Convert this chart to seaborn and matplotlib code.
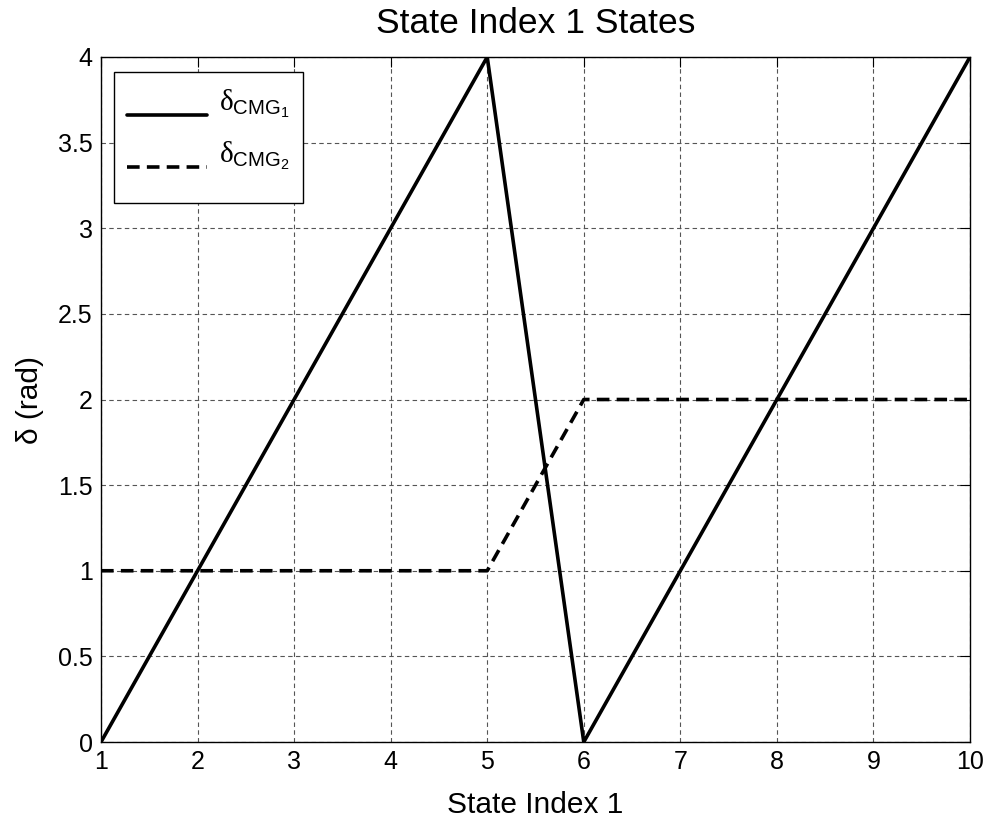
import matplotlib
matplotlib.use("Agg")
import matplotlib.pyplot as plt
import seaborn as sns
import pandas as pd
import numpy as np

state_index = [1, 2, 3, 4, 5, 6, 7, 8, 9, 10]
delta_cmg1 = [0, 1, 2, 3, 4, 0, 1, 2, 3, 4]
delta_cmg2 = [1, 1, 1, 1, 1, 2, 2, 2, 2, 2]
x_ticks = [1, 2, 3, 4, 5, 6, 7, 8, 9, 10]
y_ticks = [0, 0.5, 1, 1.5, 2, 2.5, 3, 3.5, 4]
y_tick_labels = ["0", "0.5", "1", "1.5", "2", "2.5", "3", "3.5", "4"]

sns.set_style("white")
plt.rcParams['font.family'] = ['Liberation Sans', 'DejaVu Sans']
plt.rcParams['mathtext.fontset'] = 'custom'
plt.rcParams['mathtext.rm'] = 'Liberation Sans'
plt.rcParams['mathtext.it'] = 'Liberation Serif'
plt.rcParams['text.color'] = 'black'
plt.rcParams['axes.labelcolor'] = 'black'

df1 = pd.DataFrame({"x": state_index, "y": delta_cmg1})
df2 = pd.DataFrame({"x": state_index, "y": delta_cmg2})

fig = plt.figure(figsize=(9.87, 8.18), dpi=100)
ax = fig.add_axes([101/987, 1 - 742/818, (970-101)/987, (742-57)/818])

sns.lineplot(data=df1, x="x", y="y", ax=ax, color="black", linewidth=2.6,
             label=r"$\delta_{\mathregular{CMG}_1}$")
sns.lineplot(data=df2, x="x", y="y", ax=ax, color="black", linewidth=2.6,
             linestyle=(0, (3.5, 2)), label=r"$\delta_{\mathregular{CMG}_2}$")

ax.set_xlim(1, 10)
ax.set_ylim(0, 4)
ax.set_xticks(x_ticks)
ax.set_yticks(y_ticks)
ax.set_yticklabels(y_tick_labels)
ax.grid(True, color="#555555", linestyle=(0, (4, 3)), linewidth=0.8)
for s in ax.spines.values():
    s.set_color("black")
    s.set_linewidth(1.0)
ax.tick_params(direction="in", length=7, labelsize=18, colors="black",
               top=True, right=True, pad=6)
ax.set_xlabel("State Index 1", fontsize=21.5, labelpad=12)
ax.set_ylabel("δ (rad)", fontsize=21.5, labelpad=10)
ax.set_title("State Index 1 States", fontsize=25.5, pad=17)

leg = ax.legend(loc="upper left", fontsize=21, frameon=True, fancybox=False,
                edgecolor="black", handlelength=2.75, handletextpad=0.4,
                handleheight=2.42, borderpad=0.45, labelspacing=-0.03,
                borderaxespad=0,
                bbox_to_anchor=((114-101)/869, 1 - (72-57)/685))
leg.get_frame().set_linewidth(1.0)
leg.get_frame().set_alpha(1)
# fine vertical placement of legend entries (MATLAB-like centring)
for t in leg.get_texts():
    t.set_position((0, 10))
for ln in leg.get_lines():
    ln.set_ydata(np.asarray(ln.get_ydata()) - 12 * 72 / 100)

fig.savefig("out.png", dpi=100)
